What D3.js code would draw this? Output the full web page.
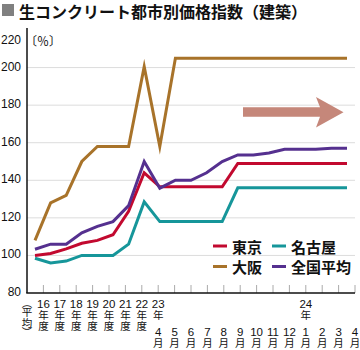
<!DOCTYPE html>
<html><head><meta charset="utf-8">
<script src="https://cdn.jsdelivr.net/npm/d3@7"></script>
<style>
body{margin:0;background:#fff;}
svg{display:block;}
text{font-family:"Liberation Sans","Noto Sans CJK JP",sans-serif;}
</style></head>
<body>
<div id="chart"></div>
<script>
const categories = ["(平均)","16年度","17年度","18年度","19年度","20年度","21年度","22年度",
  "23年4月","5月","6月","7月","8月","9月","10月","11月","12月","24年1月","2月","3月","4月"];
const tokyo  = [100,101,103.5,106.5,108,111,123.5,144, 136.5,136.5,136.5,136.5,136.5, 149,149,149,149,149,149,149,149];
const nagoya = [98.5,96,97,100,100,100,106,128.5, 118,118,118,118,118, 136,136,136,136,136,136,136,136];
const osaka  = [108,128,132,150,158,158,158,200.5, 158,205,205,205,205,205,205,205,205,205,205,205,205];
const zenkoku= [103.3,106,106,112,115.5,118,126.5,150, 135.8,140,140,144,150,153.5,153.5,154.5,156.5,156.5,156.5,157,157];
const yTicks = [80,100,120,140,160,180,200,220];
const gridValues = [100,120,140,160,180,200];
const series = [
  {name:"名古屋", values:nagoya, color:"#16969a"},
  {name:"大阪", values:osaka, color:"#a8732a"},
  {name:"東京", values:tokyo, color:"#c2092f"},
  {name:"全国平均", values:zenkoku, color:"#55308f"}
];
const legendItems = [
  {name:"東京", color:"#c2092f", col:0, row:0},
  {name:"名古屋", color:"#16969a", col:1, row:0},
  {name:"大阪", color:"#a8732a", col:0, row:1},
  {name:"全国平均", color:"#55308f", col:1, row:1}
];

const W=360,H=350;
const svg=d3.select("#chart").append("svg").attr("width",W).attr("height",H);

const y=d3.scaleLinear().domain([80,220]).range([293,30]);
const xLabel=d3.scalePoint().domain(categories).range([27,355]);
const xLine=d3.scalePoint().domain(categories).range([35,347]);

// title
svg.append("rect").attr("x",2).attr("y",4).attr("width",12).attr("height",12).attr("fill","#808080");
svg.append("text").attr("x",19).attr("y",11).attr("dominant-baseline","central")
  .style("font-family","'Noto Sans CJK JP',sans-serif").style("font-weight","bold").style("font-size","16px")
  .attr("fill","#111").text("生コンクリート都市別価格指数（建築）");

// gridlines
svg.append("g").selectAll("line").data(gridValues).join("line")
  .attr("x1",27).attr("x2",355).attr("y1",d=>y(d)).attr("y2",d=>y(d))
  .attr("stroke","#dcdcdc").attr("stroke-width",1);

// x ticks
svg.append("g").selectAll("line").data(categories.slice(1)).join("line")
  .attr("x1",d=>xLabel(d)).attr("x2",d=>xLabel(d)).attr("y1",285).attr("y2",293)
  .attr("stroke","#aaa").attr("stroke-width",1);

// axes lines
svg.append("line").attr("x1",27).attr("x2",27).attr("y1",y(220)-2).attr("y2",y(80)).attr("stroke","#111").attr("stroke-width",1.5);
svg.append("line").attr("x1",26.25).attr("x2",355).attr("y1",y(80)).attr("y2",y(80)).attr("stroke","#111").attr("stroke-width",1.5);

// y labels
svg.append("g").selectAll("text").data(yTicks).join("text")
  .attr("x",21).attr("y",d=>Math.max(y(d)-1,40)).attr("text-anchor","end").attr("dominant-baseline","central")
  .style("font-size","12px").attr("fill","#111").text(d=>d);

// unit
svg.append("text").attr("x",25).attr("y",40).attr("dominant-baseline","central")
  .style("font-family","'Noto Sans CJK JP'").style("font-size","12px").attr("fill","#111").text("〔％〕");

// x labels: one text per column, stacked tspans
const rows=[304,314.5,325,331.5,342.5];
function parts(c){
  let m;
  if(c==="(平均)") return [["︵",302.5],["平",311.5],["均",322],["︶",331]];
  if((m=c.match(/^(\d+)年度$/))) return [[m[1],rows[0]],["年",rows[1]],["度",rows[2]]];
  if((m=c.match(/^(\d+)年(\d+)月$/))) return [[m[1],rows[0]],["年",rows[1]],[m[2],rows[3]],["月",rows[4]]];
  if((m=c.match(/^(\d+)月$/))) return [[m[1],rows[3]],["月",rows[4]]];
  return [[c,rows[0]]];
}
const xl=svg.append("g");
categories.forEach(c=>{
  const cx=xLabel(c);
  const t=xl.append("text").attr("text-anchor","middle").attr("fill","#111");
  parts(c).forEach(([s,yy])=>{
    const isCJK=/[年度月平均︵︶]/.test(s);
    t.append("tspan").attr("x",cx).attr("y",yy).attr("dominant-baseline","central")
      .style("font-family",isCJK?"'Noto Sans CJK JP'":"'Liberation Sans'")
      .style("font-size",isCJK?"10.5px":"11.5px").text(s);
  });
});

// lines
const line=d3.line().x((d,i)=>xLine(categories[i])).y(d=>y(d));
svg.append("g").selectAll("path").data(series).join("path")
  .attr("d",d=>line(d.values)).attr("fill","none").attr("stroke",d=>d.color)
  .attr("stroke-width",3).attr("stroke-linejoin","miter").attr("stroke-miterlimit",10);

// arrow decoration
svg.append("path").attr("d","M243,107.3 L320,107.3 L316,97 L343.5,112.3 L316,127.5 L320,116.7 L243,116.7 Z").attr("fill","#c5877a");

// legend
const lg=svg.append("g");
legendItems.forEach(it=>{
  const x0=it.col===0?213:272, yy=it.row===0?246:266.5;
  lg.append("line").attr("x1",x0).attr("x2",x0+14).attr("y1",yy).attr("y2",yy).attr("stroke",it.color).attr("stroke-width",3);
  lg.append("text").attr("x",x0+19).attr("y",yy).attr("dominant-baseline","central")
    .style("font-family","'Noto Sans CJK JP'").style("font-weight","bold").style("font-size","15px").attr("fill","#111").text(it.name);
});
</script>
</body></html>
